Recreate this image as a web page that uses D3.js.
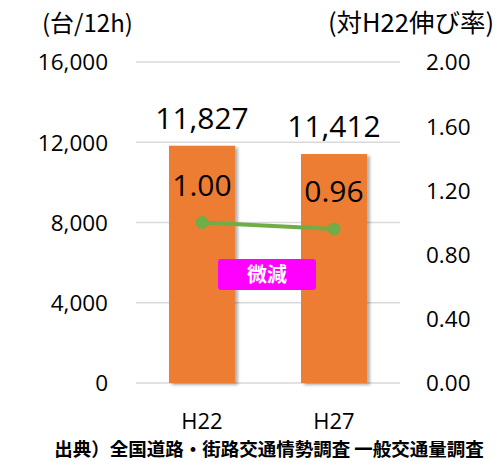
<!DOCTYPE html>
<html>
<head>
<meta charset="utf-8">
<script src="https://cdn.jsdelivr.net/npm/d3@7"></script>
<style>
  body { margin: 0; background: #fff; }
  svg text { font-family: "Open Sans", "Noto Sans CJK JP", sans-serif; fill: #000; }
</style>
</head>
<body>
<div id="chart"></div>
<script>
var years = ["H22", "H27"];
var volumes = [11827, 11412];
var ratios = [1.00, 0.96];
var leftTicks = [0, 4000, 8000, 12000, 16000];
var rightTicks = [0, 0.4, 0.8, 1.2, 1.6, 2.0];

var width = 500, height = 461;
var svg = d3.select("#chart").append("svg")
    .attr("width", width)
    .attr("height", height);

// shadow for the bars
var defs = svg.append("defs");
var f = defs.append("filter").attr("id", "shadow")
    .attr("x", "-10%").attr("y", "-10%").attr("width", "130%").attr("height", "120%");
f.append("feDropShadow").attr("dx", 3).attr("dy", 2).attr("stdDeviation", 1.5)
    .attr("flood-color", "#000").attr("flood-opacity", 0.3);

var x = d3.scaleBand().domain(years).range([136, 400]).paddingInner(0.5).paddingOuter(0.25);
var yL = d3.scaleLinear().domain([0, 16000]).range([383, 62]);
var yR = d3.scaleLinear().domain([0, 2]).range([383, 62]);

// gridlines
svg.append("g").selectAll("line")
    .data(leftTicks)
    .enter().append("line")
    .attr("x1", 136).attr("x2", 400)
    .attr("y1", function(d) { return yL(d); })
    .attr("y2", function(d) { return yL(d); })
    .attr("stroke", "#d9d9d9")
    .attr("stroke-width", 1.5);

// left axis
var leftAxis = svg.append("g")
    .attr("transform", "translate(108,0)")
    .call(d3.axisLeft(yL).tickValues(leftTicks).tickSize(0).tickPadding(0).tickFormat(d3.format(",")));
leftAxis.select(".domain").remove();
leftAxis.selectAll("text").attr("font-size", "22.5px").attr("dy", "0.35em").style("font-family", "'Open Sans', sans-serif");

// right axis
var rightAxis = svg.append("g")
    .attr("transform", "translate(426,0)")
    .call(d3.axisRight(yR).tickValues(rightTicks).tickSize(0).tickPadding(0).tickFormat(d3.format(".2f")));
rightAxis.select(".domain").remove();
rightAxis.selectAll("text").attr("font-size", "22.5px").attr("dy", "0.35em").style("font-family", "'Open Sans', sans-serif");

// bars
svg.append("g").selectAll("rect")
    .data(volumes)
    .enter().append("rect")
    .attr("x", function(d, i) { return x(years[i]); })
    .attr("y", function(d) { return yL(d); })
    .attr("width", x.bandwidth())
    .attr("height", function(d) { return yL(0) - yL(d); })
    .attr("fill", "#ED7D31")
    .attr("filter", "url(#shadow)");

// bar labels
svg.append("g").selectAll("text")
    .data(volumes)
    .enter().append("text")
    .attr("x", function(d, i) { return x(years[i]) + x.bandwidth() / 2; })
    .attr("y", function(d) { return yL(d) - 17; })
    .attr("text-anchor", "middle")
    .attr("font-size", "30px")
    .text(function(d) { return d3.format(",")(d); });

// ratio line
var line = d3.line()
    .x(function(d, i) { return x(years[i]) + x.bandwidth() / 2; })
    .y(function(d) { return yR(d); });
svg.append("path")
    .datum(ratios)
    .attr("d", line)
    .attr("fill", "none")
    .attr("stroke", "#70AD47")
    .attr("stroke-width", 4);
svg.append("g").selectAll("circle")
    .data(ratios)
    .enter().append("circle")
    .attr("cx", function(d, i) { return x(years[i]) + x.bandwidth() / 2; })
    .attr("cy", function(d) { return yR(d); })
    .attr("r", 6.5)
    .attr("fill", "#70AD47");

// ratio labels
svg.append("g").selectAll("text")
    .data(ratios)
    .enter().append("text")
    .attr("x", function(d, i) { return x(years[i]) + x.bandwidth() / 2; })
    .attr("y", function(d) { return yR(d) - 27; })
    .attr("text-anchor", "middle")
    .attr("font-size", "30px")
    .text(function(d) { return d3.format(".2f")(d); });

// 微減 badge
svg.append("rect")
    .attr("x", 218).attr("y", 259)
    .attr("width", 98).attr("height", 31)
    .attr("rx", 3)
    .attr("fill", "#FF00FF");
svg.append("text")
    .attr("x", 267).attr("y", 282)
    .attr("text-anchor", "middle")
    .attr("font-size", "20px")
    .attr("font-weight", "bold")
    .style("font-family", "'Noto Sans CJK JP', sans-serif")
    .style("fill", "#fff")
    .text("微減");

// x labels
svg.append("g").selectAll("text")
    .data(years)
    .enter().append("text")
    .attr("x", function(d) { return x(d) + x.bandwidth() / 2; })
    .attr("y", 429)
    .attr("text-anchor", "middle")
    .attr("font-size", "22px")
    .text(function(d) { return d; });

// axis titles
svg.append("text")
    .attr("x", 42).attr("y", 32)
    .attr("font-size", "24px")
    .style("font-family", "'Noto Sans CJK JP', sans-serif")
    .text("(台/12h)");
svg.append("text")
    .attr("x", 494).attr("y", 32)
    .attr("text-anchor", "end")
    .attr("font-size", "25.5px")
    .style("font-family", "'Noto Sans CJK JP', sans-serif")
    .text("(対H22伸び率)");

// source
svg.append("text")
    .attr("x", 269).attr("y", 456)
    .attr("text-anchor", "middle")
    .attr("font-size", "18.5px")
    .attr("font-weight", "bold")
    .style("font-family", "'Noto Sans CJK JP', sans-serif")
    .text("出典）全国道路・街路交通情勢調査 一般交通量調査");
</script>
</body>
</html>
